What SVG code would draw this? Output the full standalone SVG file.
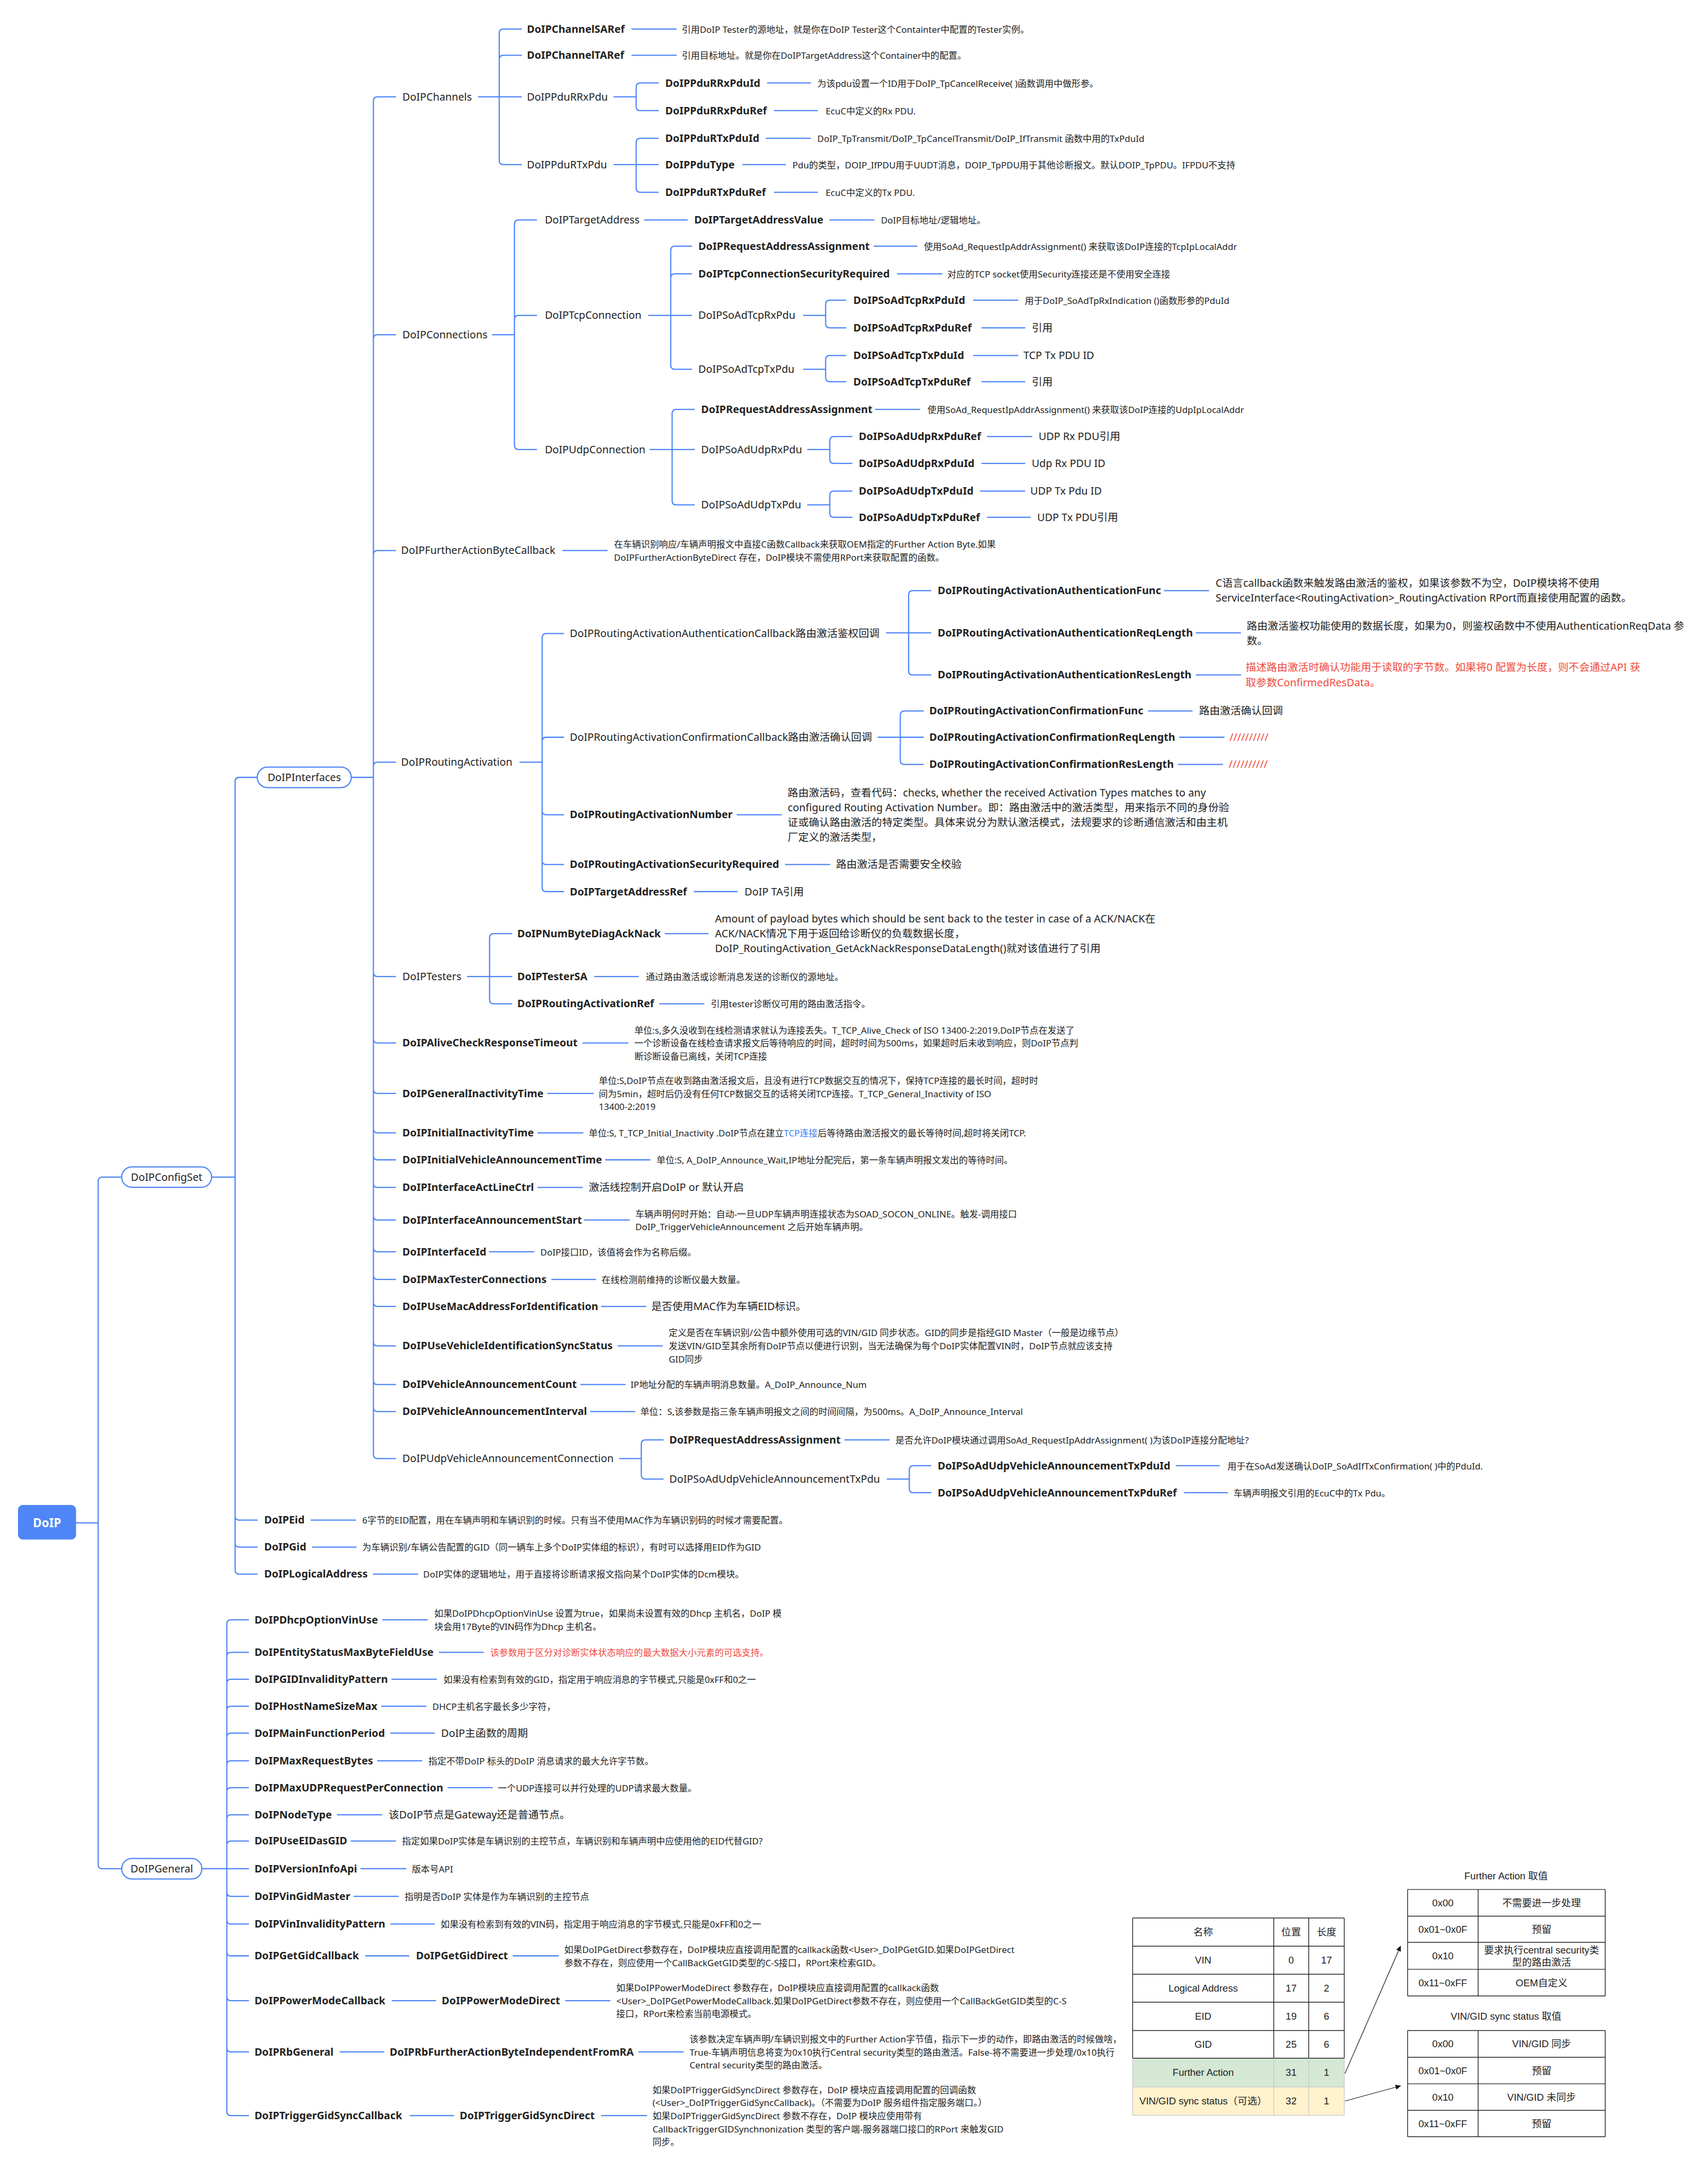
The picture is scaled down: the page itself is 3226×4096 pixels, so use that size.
<svg xmlns="http://www.w3.org/2000/svg" width="3226" height="4096" viewBox="0 0 3226 4096">
<style>
.c{fill:none;stroke:#4F86F7;stroke-width:0.87;stroke-linecap:round;stroke-linejoin:round}
text{font-family:"Noto Sans","Noto Sans CJK SC",sans-serif;fill:#222}
.t{font-size:7.58px}
.tb{font-size:7.58px;font-weight:700}
.s{font-size:6.5px}
.r{fill:#F04A3E}
.lk{fill:#3B7BF6}
.pill{fill:#fff;stroke:#4F86F7;stroke-width:0.87}
.tbl text{font-family:"Liberation Sans","Noto Sans CJK SC",sans-serif;font-size:7.1px;text-anchor:middle}
.g{stroke:#222;stroke-width:0.55;fill:none}
.gl{stroke:#c8c8c8;stroke-width:0.5;fill:none}
.ar{stroke:#111;stroke-width:0.45;fill:none}
</style>
<defs>
<marker id="ah" viewBox="0 0 10 10" refX="9" refY="5" markerUnits="userSpaceOnUse" markerWidth="4" markerHeight="4" orient="auto"><path d="M0,0.5 L10,5 L0,9.5 z" fill="#111"/></marker>
</defs>
<rect width="3226" height="4096" fill="#fff"/>
<g transform="scale(2.6121)">
<g id="connectors">
<path class="c" d="M55,1101H71M71,1101V854Q71,851 74,851H88M71,1101V1348Q71,1351 74,1351H88
M153,851H170M170,851V565Q170,562 173,562H186M170,851V1096Q170,1099 173,1099H186M170,851V1115.5Q170,1118.5 173,1118.5H186M170,851V1135Q170,1138 173,1138H186
M254,562H270M270,562V73Q270,70 273,70H286M270,562V245Q270,242 273,242H286M270,562V401Q270,398 273,398H286M270,562V554Q270,551 273,551H286M270,562V703Q270,706 273,706H286M270,562V751Q270,754 273,754H286M270,562V787.5Q270,790.5 273,790.5H286M270,562V816Q270,819 273,819H286M270,562V835.5Q270,838.5 273,838.5H286M270,562V855.5Q270,858.5 273,858.5H286M270,562V879Q270,882 273,882H286M270,562V902Q270,905 273,905H286M270,562V922Q270,925 273,925H286M270,562V941.5Q270,944.5 273,944.5H286M270,562V970Q270,973 273,973H286M270,562V998Q270,1001 273,1001H286M270,562V1017.5Q270,1020.5 273,1020.5H286M270,562V1051.5Q270,1054.5 273,1054.5H286
M346,70H377M361,70V24Q361,21 364,21H377M361,70V43Q361,40 364,40H377M361,70V116Q361,119 364,119H377
M444,70H460M460,70V63Q460,60 463,60H476M460,70V77Q460,80 463,80H476
M444,119H476M460,119V103Q460,100 463,100H476M460,119V136Q460,139 463,139H476
M356,242H372M372,242V162Q372,159 375,159H388M372,242V231Q372,228 375,228H388M372,242V322Q372,325 375,325H388
M469,228H500M485,228V181Q485,178 488,178H500M485,228V201Q485,198 488,198H500M485,228V264Q485,267 488,267H500
M581,228H597M597,228V220Q597,217 600,217H611.5M597,228V234Q597,237 600,237H611.5
M581,267H597M597,267V260Q597,257 600,257H611.5M597,267V273Q597,276 600,276H611.5
M470,325H502M486,325V299Q486,296 489,296H502M486,325V362Q486,365 489,365H502
M584,325H600M600,325V318.6Q600,315.6 603,315.6H616M600,325V332Q600,335 603,335H616
M584,365H600M600,365V358Q600,355 603,355H616M600,365V371Q600,374 603,374H616
M376,551H392M392,551V461Q392,458 395,458H407.5M392,551V536Q392,533 395,533H407.5M392,551V586Q392,589 395,589H407.5M392,551V622Q392,625 395,625H407.5M392,551V641.6Q392,644.6 395,644.6H407.5
M641,457.5H673M657,457.5V430Q657,427 660,427H673M657,457.5V485Q657,488 660,488H673
M635,533H667.6M651,533V517Q651,514 654,514H667.6M651,533V549.7Q651,552.7 654,552.7H667.6
M338,706H370M354,706V678Q354,675 357,675H370M354,706V722.7Q354,725.7 357,725.7H370
M448,1054.5H463.7M463.7,1054.5V1044Q463.7,1041 466.7,1041H479.5M463.7,1054.5V1066.3Q463.7,1069.3 466.7,1069.3H479.5
M641.6,1069.3H657.5M657.5,1069.3V1062.6Q657.5,1059.6 660.5,1059.6H673M657.5,1069.3V1076.2Q657.5,1079.2 660.5,1079.2H673
M146,1351H179.7M164,1351V1174Q164,1171 167,1171H179.7M164,1351V1197.6Q164,1194.6 167,1194.6H179.7M164,1351V1217Q164,1214 167,1214H179.7M164,1351V1236.5Q164,1233.5 167,1233.5H179.7M164,1351V1256Q164,1253 167,1253H179.7M164,1351V1276Q164,1273 167,1273H179.7M164,1351V1295.4Q164,1292.4 167,1292.4H179.7M164,1351V1315Q164,1312 167,1312H179.7M164,1351V1334Q164,1331 167,1331H179.7M164,1351V1368Q164,1371 167,1371H179.7M164,1351V1388Q164,1391 167,1391H179.7M164,1351V1411Q164,1414 167,1414H179.7M164,1351V1443.4Q164,1446.4 167,1446.4H179.7M164,1351V1480.4Q164,1483.4 167,1483.4H179.7M164,1351V1526.5Q164,1529.5 167,1529.5H179.7
M457,21H489M457,40H489M555,60H586M560,80H591M554,100H586M537,119H568M560,139H591
M466,159H497M600,159H632M632,178H663M649,198H681M704,217H736M710,237H741M704,257H736M710,276H741M633,296H665M714,315.6H746M710,335H741M709,355H741M714,374H745
M407,398H439
M842,427H874M865,457.5H897M865,488H897M830.5,514H862M853,533H885M852,552.7H884M533,589H565M568,625H600M502,644.6H533
M481,675H512M430,706H461.5M477,725.7H509
M421.5,754H454M396,790.5H429M389,819H421.5M438,838.5H470M389,858.5H421M422.6,882H455M354,905H386M399,925H430.7M435,944.5H467M447,973H479M420,1001H452M427,1020.5H459
M611,1041H643M850.6,1059.6H881.7M856.5,1079.2H887.6
M225,1099H257M226,1118.5H257.5M270,1138H302
M276.7,1171H309M317.7,1194.6H349.5M283.4,1214H315.6M276,1233.5H308M282.5,1253H314M273,1273H305M324,1292.4H356M244,1312H276M254,1331H286M261,1351H293.5M256,1371H288M282.6,1391H314M264.5,1414H295.6M371,1414H403.6M283.6,1446.4H315M409,1446.4H441M246,1483.4H277.5M462,1483.4H494M296.5,1529.5H328M435,1529.5H467.5"/>
</g>
<g id="n-root"><rect x="13" y="1088" width="42" height="25" rx="3.5" fill="#4F86F7"/><text x="34" y="1104.2" text-anchor="middle" style="font-size:8.6px;font-weight:700;fill:#fff">DoIP</text></g>
<g id="n-configset"><rect class="pill" x="88" y="843.6" width="65" height="14.8" rx="7.4"/><text class="t" x="120.5" y="853.6" text-anchor="middle">DoIPConfigSet</text></g>
<g id="n-general"><rect class="pill" x="88" y="1343.6" width="58" height="14.8" rx="7.4"/><text class="t" x="117" y="1353.6" text-anchor="middle">DoIPGeneral</text></g>
<g id="n-interfaces"><rect class="pill" x="186" y="554.6" width="68" height="14.8" rx="7.4"/><text class="t" x="220" y="564.6" text-anchor="middle">DoIPInterfaces</text></g>
<g transform="translate(0,2.6)">
<g id="n-channels"><text class="t" x="291" y="70">DoIPChannels</text></g>
<g id="n-sa"><text class="tb" x="381" y="21">DoIPChannelSARef</text></g>
<g id="d-sa"><text class="s" x="493" y="21">引用DoIP Tester的源地址，就是你在DoIP Tester这个Containter中配置的Tester实例。</text></g>
<g id="n-ta"><text class="tb" x="381" y="40">DoIPChannelTARef</text></g>
<g id="d-ta"><text class="s" x="493" y="40">引用目标地址。就是你在DoIPTargetAddress这个Container中的配置。</text></g>
<g id="n-rxpdu"><text class="t" x="381" y="70">DoIPPduRRxPdu</text></g>
<g id="n-txpdu"><text class="t" x="381" y="119">DoIPPduRTxPdu</text></g>
<g id="n-rxid"><text class="tb" x="481" y="60">DoIPPduRRxPduId</text></g>
<g id="d-rxid"><text class="s" x="591" y="60">为该pdu设置一个ID用于DoIP_TpCancelReceive( )函数调用中做形参。</text></g>
<g id="n-rxref"><text class="tb" x="481" y="80">DoIPPduRRxPduRef</text></g>
<g id="d-rxref"><text class="s" x="597" y="80">EcuC中定义的Rx PDU.</text></g>
<g id="n-txid"><text class="tb" x="481" y="100">DoIPPduRTxPduId</text></g>
<g id="d-txid"><text class="s" x="591" y="100">DoIP_TpTransmit/DoIP_TpCancelTransmit/DoIP_IfTransmit 函数中用的TxPduId</text></g>
<g id="n-type"><text class="tb" x="481" y="119">DoIPPduType</text></g>
<g id="d-type"><text class="s" x="573" y="119">Pdu的类型，DOIP_IfPDU用于UUDT消息，DOIP_TpPDU用于其他诊断报文。默认DOIP_TpPDU。IFPDU不支持</text></g>
<g id="n-txref"><text class="tb" x="481" y="139">DoIPPduRTxPduRef</text></g>
<g id="d-txref"><text class="s" x="597" y="139">EcuC中定义的Tx PDU.</text></g>

<g id="n-conn"><text class="t" x="291" y="242">DoIPConnections</text></g>
<g id="n-tgt"><text class="t" x="394" y="159">DoIPTargetAddress</text></g>
<g id="n-tgtv"><text class="tb" x="502" y="159">DoIPTargetAddressValue</text></g>
<g id="d-tgtv"><text class="s" x="637" y="159">DoIP目标地址/逻辑地址。</text></g>
<g id="n-tcp"><text class="t" x="394" y="228">DoIPTcpConnection</text></g>
<g id="n-tcpra"><text class="tb" x="505" y="178">DoIPRequestAddressAssignment</text></g>
<g id="d-tcpra"><text class="s" x="668" y="178">使用SoAd_RequestIpAddrAssignment() 来获取该DoIP连接的TcpIpLocalAddr</text></g>
<g id="n-tcpsec"><text class="tb" x="505" y="198">DoIPTcpConnectionSecurityRequired</text></g>
<g id="d-tcpsec"><text class="s" x="685" y="198">对应的TCP socket使用Security连接还是不使用安全连接</text></g>
<g id="n-tcprx"><text class="t" x="505" y="228">DoIPSoAdTcpRxPdu</text></g>
<g id="n-tcptx"><text class="t" x="505" y="267">DoIPSoAdTcpTxPdu</text></g>
<g id="n-tcprxid"><text class="tb" x="617" y="217">DoIPSoAdTcpRxPduId</text></g>
<g id="d-tcprxid"><text class="s" x="741" y="217">用于DoIP_SoAdTpRxIndication ()函数形参的PduId</text></g>
<g id="n-tcprxref"><text class="tb" x="617" y="237">DoIPSoAdTcpRxPduRef</text></g>
<g id="d-tcprxref"><text class="t" x="746" y="237">引用</text></g>
<g id="n-tcptxid"><text class="tb" x="617" y="257">DoIPSoAdTcpTxPduId</text></g>
<g id="d-tcptxid"><text class="t" x="740" y="257">TCP Tx PDU ID</text></g>
<g id="n-tcptxref"><text class="tb" x="617" y="276">DoIPSoAdTcpTxPduRef</text></g>
<g id="d-tcptxref"><text class="t" x="746" y="276">引用</text></g>
<g id="n-udp"><text class="t" x="394" y="325">DoIPUdpConnection</text></g>
<g id="n-udpra"><text class="tb" x="507" y="296">DoIPRequestAddressAssignment</text></g>
<g id="d-udpra"><text class="s" x="670.6" y="296">使用SoAd_RequestIpAddrAssignment() 来获取该DoIP连接的UdpIpLocalAddr</text></g>
<g id="n-udprx"><text class="t" x="507" y="325">DoIPSoAdUdpRxPdu</text></g>
<g id="n-udptx"><text class="t" x="507" y="365">DoIPSoAdUdpTxPdu</text></g>
<g id="n-udprxref"><text class="tb" x="621" y="315.6">DoIPSoAdUdpRxPduRef</text></g>
<g id="d-udprxref"><text class="t" x="751" y="315.6">UDP Rx PDU引用</text></g>
<g id="n-udprxid"><text class="tb" x="621" y="335">DoIPSoAdUdpRxPduId</text></g>
<g id="d-udprxid"><text class="t" x="746" y="335">Udp Rx PDU ID</text></g>
<g id="n-udptxid"><text class="tb" x="621" y="355">DoIPSoAdUdpTxPduId</text></g>
<g id="d-udptxid"><text class="t" x="745" y="355">UDP Tx Pdu ID</text></g>
<g id="n-udptxref"><text class="tb" x="621" y="374">DoIPSoAdUdpTxPduRef</text></g>
<g id="d-udptxref"><text class="t" x="750" y="374">UDP Tx PDU引用</text></g>

<g id="n-fab"><text class="t" x="290" y="398">DoIPFurtherActionByteCallback</text></g>
<g id="d-fab"><text class="s"><tspan x="444" y="393.3">在车辆识别响应/车辆声明报文中直接C函数Callback来获取OEM指定的Further Action Byte.如果</tspan><tspan x="444" y="402.7">DoIPFurtherActionByteDirect 存在，DoIP模块不需使用RPort来获取配置的函数。</tspan></text></g>

<g id="n-ra"><text class="t" x="290" y="551">DoIPRoutingActivation</text></g>
<g id="n-rauth"><text class="t" x="412" y="458" textLength="224" lengthAdjust="spacing">DoIPRoutingActivationAuthenticationCallback路由激活鉴权回调</text></g>
<g id="n-rconf"><text class="t" x="412" y="533" textLength="218.5" lengthAdjust="spacing">DoIPRoutingActivationConfirmationCallback路由激活确认回调</text></g>
<g id="n-afunc"><text class="tb" x="678" y="427">DoIPRoutingActivationAuthenticationFunc</text></g>
<g id="d-afunc"><text class="t"><tspan x="879" y="421.6">C语言callback函数来触发路由激活的鉴权，如果该参数不为空，DoIP模块将不使用</tspan><tspan x="879" y="432.4">ServiceInterface&lt;RoutingActivation&gt;_RoutingActivation RPort而直接使用配置的函数。</tspan></text></g>
<g id="n-areq"><text class="tb" x="678" y="457.5">DoIPRoutingActivationAuthenticationReqLength</text></g>
<g id="d-areq"><text class="t"><tspan x="901.5" y="452.6">路由激活鉴权功能使用的数据长度，如果为0，则鉴权函数中不使用AuthenticationReqData 参</tspan><tspan x="901.5" y="463.4">数。</tspan></text></g>
<g id="n-ares"><text class="tb" x="678" y="488">DoIPRoutingActivationAuthenticationResLength</text></g>
<g id="d-ares"><text class="t r"><tspan x="900.7" y="482.6">描述路由激活时确认功能用于读取的字节数。如果将0 配置为长度，则不会通过API 获</tspan><tspan x="900.7" y="493.4">取参数ConfirmedResData。</tspan></text></g>
<g id="n-cfunc"><text class="tb" x="672" y="514">DoIPRoutingActivationConfirmationFunc</text></g>
<g id="d-cfunc"><text class="t" x="867" y="514">路由激活确认回调</text></g>
<g id="n-creq"><text class="tb" x="672" y="533">DoIPRoutingActivationConfirmationReqLength</text></g>
<g id="d-creq"><text class="t r" x="889" y="533">//////////</text></g>
<g id="n-cres"><text class="tb" x="672" y="552.7">DoIPRoutingActivationConfirmationResLength</text></g>
<g id="d-cres"><text class="t r" x="888.5" y="552.7">//////////</text></g>
<g id="n-rnum"><text class="tb" x="412" y="589">DoIPRoutingActivationNumber</text></g>
<g id="d-rnum"><text class="t"><tspan x="569.6" y="573">路由激活码，查看代码：checks, whether the received Activation Types matches to any</tspan><tspan x="569.6" y="583.8">configured Routing Activation Number。即：路由激活中的激活类型，用来指示不同的身份验</tspan><tspan x="569.6" y="594.6">证或确认路由激活的特定类型。具体来说分为默认激活模式，法规要求的诊断通信激活和由主机</tspan><tspan x="569.6" y="605.4">厂定义的激活类型，</tspan></text></g>
<g id="n-rsec"><text class="tb" x="412" y="625">DoIPRoutingActivationSecurityRequired</text></g>
<g id="d-rsec"><text class="t" x="604.5" y="625">路由激活是否需要安全校验</text></g>
<g id="n-rta"><text class="tb" x="412" y="644.6">DoIPTargetAddressRef</text></g>
<g id="d-rta"><text class="t" x="538.4" y="644.6">DoIP TA引用</text></g>

<g id="n-testers"><text class="t" x="291" y="706">DoIPTesters</text></g>
<g id="n-numbyte"><text class="tb" x="374" y="675">DoIPNumByteDiagAckNack</text></g>
<g id="d-numbyte"><text class="t"><tspan x="517" y="664.2">Amount of payload bytes which should be sent back to the tester in case of a ACK/NACK在</tspan><tspan x="517" y="675">ACK/NACK情况下用于返回给诊断仪的负载数据长度，</tspan><tspan x="517" y="685.8">DoIP_RoutingActivation_GetAckNackResponseDataLength()就对该值进行了引用</tspan></text></g>
<g id="n-testersa"><text class="tb" x="374" y="706">DoIPTesterSA</text></g>
<g id="d-testersa"><text class="s" x="467" y="706">通过路由激活或诊断消息发送的诊断仪的源地址。</text></g>
<g id="n-raref"><text class="tb" x="374" y="725.7">DoIPRoutingActivationRef</text></g>
<g id="d-raref"><text class="s" x="514" y="725.7">引用tester诊断仪可用的路由激活指令。</text></g>

<g id="n-alive"><text class="tb" x="291" y="754">DoIPAliveCheckResponseTimeout</text></g>
<g id="d-alive"><text class="s"><tspan x="458.7" y="744.6">单位:s,多久没收到在线检测请求就认为连接丢失。T_TCP_Alive_Check of ISO 13400-2:2019.DoIP节点在发送了</tspan><tspan x="458.7" y="754">一个诊断设备在线检查请求报文后等待响应的时间，超时时间为500ms，如果超时后未收到响应，则DoIP节点判</tspan><tspan x="458.7" y="763.4">断诊断设备已离线，关闭TCP连接</tspan></text></g>
<g id="n-geninact"><text class="tb" x="291" y="790.5">DoIPGeneralInactivityTime</text></g>
<g id="d-geninact"><text class="s"><tspan x="433" y="781.1">单位:S,DoIP节点在收到路由激活报文后，且没有进行TCP数据交互的情况下，保持TCP连接的最长时间，超时时</tspan><tspan x="433" y="790.5">间为5min，超时后仍没有任何TCP数据交互的话将关闭TCP连接。T_TCP_General_Inactivity of ISO</tspan><tspan x="433" y="799.9">13400-2:2019</tspan></text></g>
<g id="n-initinact"><text class="tb" x="291" y="819">DoIPInitialInactivityTime</text></g>
<g id="d-initinact"><text class="s" x="425.7" y="819">单位:S, T_TCP_Initial_Inactivity .DoIP节点在建立<tspan class="lk">TCP连接</tspan>后等待路由激活报文的最长等待时间,超时将关闭TCP.</text></g>
<g id="n-initva"><text class="tb" x="291" y="838.5">DoIPInitialVehicleAnnouncementTime</text></g>
<g id="d-initva"><text class="s" x="474.7" y="838.5">单位:S, A_DoIP_Announce_Wait,IP地址分配完后，第一条车辆声明报文发出的等待时间。</text></g>
<g id="n-actline"><text class="tb" x="291" y="858.5">DoIPInterfaceActLineCtrl</text></g>
<g id="d-actline"><text class="t" x="425.7" y="858.5">激活线控制开启DoIP or 默认开启</text></g>
<g id="n-annstart"><text class="tb" x="291" y="882">DoIPInterfaceAnnouncementStart</text></g>
<g id="d-annstart"><text class="s"><tspan x="459.4" y="877.4">车辆声明何时开始：自动-一旦UDP车辆声明连接状态为SOAD_SOCON_ONLINE。触发-调用接口</tspan><tspan x="459.4" y="886.6">DoIP_TriggerVehicleAnnouncement 之后开始车辆声明。</tspan></text></g>
<g id="n-ifid"><text class="tb" x="291" y="905">DoIPInterfaceId</text></g>
<g id="d-ifid"><text class="s" x="390.8" y="905">DoIP接口ID，该值将会作为名称后缀。</text></g>
<g id="n-maxtester"><text class="tb" x="291" y="925">DoIPMaxTesterConnections</text></g>
<g id="d-maxtester"><text class="s" x="435" y="925">在线检测前维持的诊断仪最大数量。</text></g>
<g id="n-usemac"><text class="tb" x="291" y="944.5">DoIPUseMacAddressForIdentification</text></g>
<g id="d-usemac"><text class="t" x="471" y="944.5">是否使用MAC作为车辆EID标识。</text></g>
<g id="n-usevis"><text class="tb" x="291" y="973">DoIPUseVehicleIdentificationSyncStatus</text></g>
<g id="d-usevis"><text class="s"><tspan x="483.5" y="963.4">定义是否在车辆识别/公告中额外使用可选的VIN/GID 同步状态。GID的同步是指经GID Master（一般是边缘节点）</tspan><tspan x="483.5" y="973">发送VIN/GID至其余所有DoIP节点以便进行识别，当无法确保为每个DoIP实体配置VIN时，DoIP节点就应该支持</tspan><tspan x="483.5" y="982.6">GID同步</tspan></text></g>
<g id="n-vacount"><text class="tb" x="291" y="1001">DoIPVehicleAnnouncementCount</text></g>
<g id="d-vacount"><text class="s" x="456" y="1001">IP地址分配的车辆声明消息数量。A_DoIP_Announce_Num</text></g>
<g id="n-vaint"><text class="tb" x="291" y="1020.5">DoIPVehicleAnnouncementInterval</text></g>
<g id="d-vaint"><text class="s" x="463" y="1020.5">单位：S,该参数是指三条车辆声明报文之间的时间间隔，为500ms。A_DoIP_Announce_Interval</text></g>
<g id="n-udpva"><text class="t" x="291" y="1054.5">DoIPUdpVehicleAnnouncementConnection</text></g>
<g id="n-udpvara"><text class="tb" x="484" y="1041">DoIPRequestAddressAssignment</text></g>
<g id="d-udpvara"><text class="s" x="647.5" y="1041">是否允许DoIP模块通过调用SoAd_RequestIpAddrAssignment( )为该DoIP连接分配地址?</text></g>
<g id="n-udpvatx"><text class="t" x="484" y="1069.3">DoIPSoAdUdpVehicleAnnouncementTxPdu</text></g>
<g id="n-udpvatxid"><text class="tb" x="678" y="1059.6">DoIPSoAdUdpVehicleAnnouncementTxPduId</text></g>
<g id="d-udpvatxid"><text class="s" x="887.6" y="1059.6">用于在SoAd发送确认DoIP_SoAdIfTxConfirmation( )中的PduId.</text></g>
<g id="n-udpvatxref"><text class="tb" x="678" y="1079.2">DoIPSoAdUdpVehicleAnnouncementTxPduRef</text></g>
<g id="d-udpvatxref"><text class="s" x="892" y="1079.2">车辆声明报文引用的EcuC中的Tx Pdu。</text></g>

<g id="n-eid"><text class="tb" x="191" y="1099">DoIPEid</text></g>
<g id="d-eid"><text class="s" x="262" y="1099">6字节的EID配置，用在车辆声明和车辆识别的时候。只有当不使用MAC作为车辆识别码的时候才需要配置。</text></g>
<g id="n-gid"><text class="tb" x="191" y="1118.5">DoIPGid</text></g>
<g id="d-gid"><text class="s" x="262" y="1118.5">为车辆识别/车辆公告配置的GID（同一辆车上多个DoIP实体组的标识），有时可以选择用EID作为GID</text></g>
<g id="n-la"><text class="tb" x="191" y="1138">DoIPLogicalAddress</text></g>
<g id="d-la"><text class="s" x="306" y="1138">DoIP实体的逻辑地址，用于直接将诊断请求报文指向某个DoIP实体的Dcm模块。</text></g>

<g id="n-dhcp"><text class="tb" x="184" y="1171">DoIPDhcpOptionVinUse</text></g>
<g id="d-dhcp"><text class="s"><tspan x="314" y="1166.3">如果DoIPDhcpOptionVinUse 设置为true，如果尚未设置有效的Dhcp 主机名，DoIP 模</tspan><tspan x="314" y="1175.7">块会用17Byte的VIN码作为Dhcp 主机名。</tspan></text></g>
<g id="n-entity"><text class="tb" x="184" y="1194.6">DoIPEntityStatusMaxByteFieldUse</text></g>
<g id="d-entity"><text class="s r" x="354.4" y="1194.6">该参数用于区分对诊断实体状态响应的最大数据大小元素的可选支持。</text></g>
<g id="n-gidinv"><text class="tb" x="184" y="1214">DoIPGIDInvalidityPattern</text></g>
<g id="d-gidinv"><text class="s" x="320.7" y="1214">如果没有检索到有效的GID，指定用于响应消息的字节模式,只能是0xFF和0之一</text></g>
<g id="n-host"><text class="tb" x="184" y="1233.5">DoIPHostNameSizeMax</text></g>
<g id="d-host"><text class="s" x="312.7" y="1233.5">DHCP主机名字最长多少字符，</text></g>
<g id="n-mainfn"><text class="tb" x="184" y="1253">DoIPMainFunctionPeriod</text></g>
<g id="d-mainfn"><text class="t" x="319" y="1253">DoIP主函数的周期</text></g>
<g id="n-maxreq"><text class="tb" x="184" y="1273">DoIPMaxRequestBytes</text></g>
<g id="d-maxreq"><text class="s" x="309.7" y="1273">指定不带DoIP 标头的DoIP 消息请求的最大允许字节数。</text></g>
<g id="n-maxudp"><text class="tb" x="184" y="1292.4">DoIPMaxUDPRequestPerConnection</text></g>
<g id="d-maxudp"><text class="s" x="360" y="1292.4">一个UDP连接可以并行处理的UDP请求最大数量。</text></g>
<g id="n-nodetype"><text class="tb" x="184" y="1312">DoIPNodeType</text></g>
<g id="d-nodetype"><text class="t" x="281" y="1312">该DoIP节点是Gateway还是普通节点。</text></g>
<g id="n-useeid"><text class="tb" x="184" y="1331">DoIPUseEIDasGID</text></g>
<g id="d-useeid"><text class="s" x="290.7" y="1331">指定如果DoIP实体是车辆识别的主控节点，车辆识别和车辆声明中应使用他的EID代替GID?</text></g>
<g id="n-ver"><text class="tb" x="184" y="1351">DoIPVersionInfoApi</text></g>
<g id="d-ver"><text class="s" x="297.8" y="1351">版本号API</text></g>
<g id="n-vingid"><text class="tb" x="184" y="1371">DoIPVinGidMaster</text></g>
<g id="d-vingid"><text class="s" x="292.6" y="1371">指明是否DoIP 实体是作为车辆识别的主控节点</text></g>
<g id="n-vininv"><text class="tb" x="184" y="1391">DoIPVinInvalidityPattern</text></g>
<g id="d-vininv"><text class="s" x="318.6" y="1391">如果没有检索到有效的VIN码，指定用于响应消息的字节模式,只能是0xFF和0之一</text></g>
<g id="n-getgidcb"><text class="tb" x="184" y="1414">DoIPGetGidCallback</text></g>
<g id="n-getgiddir"><text class="tb" x="300.8" y="1414">DoIPGetGidDirect</text></g>
<g id="d-getgiddir"><text class="s"><tspan x="408" y="1409.3">如果DoIPGetDirect参数存在，DoIP模块应直接调用配置的callkack函数&lt;User&gt;_DoIPGetGID.如果DoIPGetDirect</tspan><tspan x="408" y="1418.7">参数不存在，则应使用一个CallBackGetGID类型的C-S接口，RPort来检索GID。</tspan></text></g>
<g id="n-pmcb"><text class="tb" x="184" y="1446.4">DoIPPowerModeCallback</text></g>
<g id="n-pmdir"><text class="tb" x="319.4" y="1446.4">DoIPPowerModeDirect</text></g>
<g id="d-pmdir"><text class="s"><tspan x="445.6" y="1437">如果DoIPPowerModeDirect 参数存在，DoIP模块应直接调用配置的callkack函数</tspan><tspan x="445.6" y="1446.4">&lt;User&gt;_DoIPGetPowerModeCallback.如果DoIPGetDirect参数不存在，则应使用一个CallBackGetGID类型的C-S</tspan><tspan x="445.6" y="1455.8">接口，RPort来检索当前电源模式。</tspan></text></g>
<g id="n-rbgen"><text class="tb" x="184" y="1483.4">DoIPRbGeneral</text></g>
<g id="n-rbfa"><text class="tb" x="281.8" y="1483.4">DoIPRbFurtherActionByteIndependentFromRA</text></g>
<g id="d-rbfa"><text class="s"><tspan x="498.6" y="1474">该参数决定车辆声明/车辆识别报文中的Further Action字节值，指示下一步的动作，即路由激活的时候做啥，</tspan><tspan x="498.6" y="1483.4">True-车辆声明信息将变为0x10执行Central security类型的路由激活。False-将不需要进一步处理/0x10执行</tspan><tspan x="498.6" y="1492.8">Central security类型的路由激活。</tspan></text></g>
<g id="n-trigcb"><text class="tb" x="184" y="1529.5">DoIPTriggerGidSyncCallback</text></g>
<g id="n-trigdir"><text class="tb" x="332.4" y="1529.5">DoIPTriggerGidSyncDirect</text></g>
<g id="d-trigdir"><text class="s"><tspan x="471.8" y="1510.7">如果DoIPTriggerGidSyncDirect 参数存在，DoIP 模块应直接调用配置的回调函数</tspan><tspan x="471.8" y="1520.1">(&lt;User&gt;_DoIPTriggerGidSyncCallback)。（不需要为DoIP 服务组件指定服务端口。）</tspan><tspan x="471.8" y="1529.5">如果DoIPTriggerGidSyncDirect 参数不存在，DoIP 模块应使用带有</tspan><tspan x="471.8" y="1538.9">CallbackTriggerGIDSynchnonization 类型的客户端-服务器端口接口的RPort 来触发GID</tspan><tspan x="471.8" y="1548.3">同步。</tspan></text></g>
</g>

<g id="tables" class="tbl">
<rect x="819" y="1488" width="153" height="20.8" fill="#D5E8D4"/>
<rect x="819" y="1508.8" width="153" height="20.5" fill="#FFF2CC"/>
<path class="g" d="M819,1386.6H972M819,1407H972M819,1427.3H972M819,1447.5H972M819,1468H972M819,1488H972M819,1386.6V1488M921,1386.6V1488M946.3,1386.6V1488M972,1386.6V1488"/>
<path class="gl" d="M819,1508.8H972M819,1529.3H972M819,1488V1529.3M921,1488V1529.3M946.3,1488V1529.3M972,1488V1529.3"/>
<g transform="translate(0,2.5)">
<text x="870" y="1396.8">名称</text><text x="933.6" y="1396.8">位置</text><text x="959.2" y="1396.8">长度</text>
<text x="870" y="1417.2">VIN</text><text x="933.6" y="1417.2">0</text><text x="959.2" y="1417.2">17</text>
<text x="870" y="1437.4">Logical Address</text><text x="933.6" y="1437.4">17</text><text x="959.2" y="1437.4">2</text>
<text x="870" y="1457.8">EID</text><text x="933.6" y="1457.8">19</text><text x="959.2" y="1457.8">6</text>
<text x="870" y="1478">GID</text><text x="933.6" y="1478">25</text><text x="959.2" y="1478">6</text>
<text x="870" y="1498.4">Further Action</text><text x="933.6" y="1498.4">31</text><text x="959.2" y="1498.4">1</text>
<text x="870" y="1519">VIN/GID sync status（可选）</text><text x="933.6" y="1519">32</text><text x="959.2" y="1519">1</text>
</g>
<path class="g" d="M1017.8,1366H1160.7M1017.8,1385.3H1160.7M1017.8,1404.2H1160.7M1017.8,1423.7H1160.7M1017.8,1443H1160.7M1017.8,1366V1443M1068.8,1366V1443M1160.7,1366V1443"/>
<path class="g" d="M1017.8,1468H1160.7M1017.8,1487.3H1160.7M1017.8,1506.5H1160.7M1017.8,1525.7H1160.7M1017.8,1544.7H1160.7M1017.8,1468V1544.7M1068.8,1468V1544.7M1160.7,1468V1544.7"/>
<g transform="translate(0,2.5)">
<text x="1089" y="1356">Further Action 取值</text>
<text x="1043.3" y="1375.6">0x00</text><text x="1114.7" y="1375.6">不需要进一步处理</text>
<text x="1043.3" y="1394.8">0x01~0x0F</text><text x="1114.7" y="1394.8">预留</text>
<text x="1043.3" y="1414">0x10</text><text x="1114.7" y="1409.8">要求执行central security类</text><text x="1114.7" y="1418.4">型的路由激活</text>
<text x="1043.3" y="1433.4">0x11~0xFF</text><text x="1114.7" y="1433.4">OEM自定义</text>
<text x="1089" y="1457.8">VIN/GID sync status 取值</text>
<text x="1043.3" y="1477.6">0x00</text><text x="1114.7" y="1477.6">VIN/GID 同步</text>
<text x="1043.3" y="1496.9">0x01~0x0F</text><text x="1114.7" y="1496.9">预留</text>
<text x="1043.3" y="1516.1">0x10</text><text x="1114.7" y="1516.1">VIN/GID 未同步</text>
<text x="1043.3" y="1535.2">0x11~0xFF</text><text x="1114.7" y="1535.2">预留</text>
</g>
<path class="ar" marker-end="url(#ah)" d="M972.5,1499L1012.7,1407"/>
<path class="ar" marker-end="url(#ah)" d="M972.5,1519L1012.7,1508"/>
</g>
</g>
</svg>
